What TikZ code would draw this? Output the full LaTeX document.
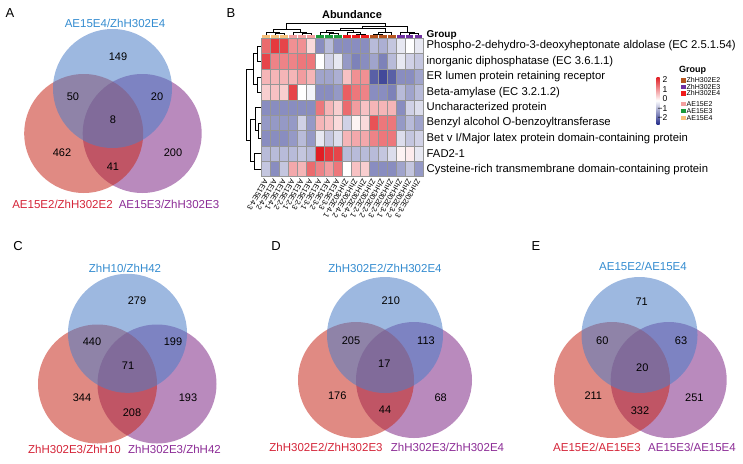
\documentclass[tikz,border=0pt]{standalone}
\usepackage{fontspec}
\setmainfont{Liberation Sans}
\definecolor{vblue}{RGB}{77,126,199}
\definecolor{vred}{RGB}{199,42,30}
\definecolor{vpurple}{RGB}{128,42,135}
\definecolor{tblue}{RGB}{52,140,208}
\definecolor{tred}{RGB}{212,36,56}
\definecolor{tpurple}{RGB}{140,44,150}
\definecolor{hmred}{RGB}{225,30,36}
\definecolor{hmblue}{RGB}{40,48,140}
\definecolor{cellgray}{RGB}{150,150,150}
\definecolor{gZtwo}{RGB}{182,84,30}
\definecolor{gZthree}{RGB}{112,48,160}
\definecolor{gZfour}{RGB}{240,26,26}
\definecolor{gAtwo}{RGB}{244,160,160}
\definecolor{gAthree}{RGB}{26,154,58}
\definecolor{gAfour}{RGB}{248,192,122}
\begin{document}
\begin{tikzpicture}[x=1pt, y=-1pt,
        panel/.style={font=\fontsize{13}{13}\selectfont},
        setlab/.style={font=\fontsize{11.5}{12}\selectfont},
        num/.style={font=\fontsize{11}{12}\selectfont},
        bluecirc/.style={fill=vblue, fill opacity=0.55},
        redcirc/.style={fill=vred, fill opacity=0.55},
        purplecirc/.style={fill=vpurple, fill opacity=0.55},
        rowlab/.style={anchor=west, inner sep=0pt, font=\fontsize{11.3}{12}\selectfont},
        collab/.style={anchor=west, rotate=240, inner sep=0pt, font=\fontsize{7.5}{7.5}\selectfont},
        dendro/.style={line width=0.6pt},
        leglab/.style={inner sep=0pt, font=\fontsize{8.5}{8.5}\selectfont},
        legtxt/.style={anchor=west, inner sep=0pt, font=\fontsize{7}{7}\selectfont},
        boldlab/.style={inner sep=0pt, font=\bfseries\fontsize{9}{9}\selectfont}
    ]
    \useasboundingbox (0,0) rectangle (743,463);

    % A
    \fill[purplecirc] (142.2,133.5) circle (59.5);
    \fill[redcirc] (83.7,133.5) circle (59.5);
    \fill[bluecirc] (112.5,88.5) circle (59.5);
    \node[panel] (pA) at (10,13) {A};
    \node[setlab, text=tblue] (a-top) at (115,23) {AE15E4/ZhH302E4};
    \node[setlab, text=tred] (a-left) at (62.5,204) {AE15E2/ZhH302E2};
    \node[setlab, text=tpurple] (a-right) at (169,204) {AE15E3/ZhH302E3};
    \node[num] (a1) at (118,57) {149};
    \node[num] (a2) at (73,97) {50};
    \node[num] (a3) at (157,97) {20};
    \node[num] (a4) at (113,120) {8};
    \node[num] (a5) at (62,153) {462};
    \node[num] (a6) at (173,153) {200};
    \node[num] (a7) at (113,167) {41};

    % B
    \node[panel] (pB) at (231,13) {B};
    \node[inner sep=0pt, font=\bfseries\fontsize{11}{12}\selectfont] (abund) at (352,15) {Abundance};
    \foreach \vals [count=\i] in {
        {1.2,1.6,1.5,0.9,0.9,0.3,-1.0,-0.6,-1.0,-1.0,-1.0,-1.0,-0.6,-0.7,-0.5,-0.2,0.0,-0.2},
        {1.5,1.0,1.0,1.0,1.1,1.1,0.0,-0.4,-0.2,-0.9,-1.1,-1.0,-0.8,-1.1,-0.6,-0.2,-0.4,-0.5},
        {0.6,0.6,0.6,0.6,0.8,0.6,-0.8,-0.8,-0.7,0.5,0.9,0.9,-1.4,-1.6,-1.4,-1.0,-1.0,-0.8},
        {0.4,0.5,0.4,1.5,0.0,-0.1,-1.0,-1.0,-0.9,1.3,1.1,1.0,-1.0,-1.0,-1.1,-0.6,-0.8,-0.6},
        {-1.0,-1.0,-1.0,-1.0,-1.0,-1.0,1.1,0.6,0.4,1.2,0.8,0.5,0.6,0.6,0.6,-1.0,-0.4,-0.3},
        {-0.9,-0.9,-0.9,-0.9,-0.4,-0.9,0.6,0.5,0.3,-0.4,0.1,0.3,1.4,1.1,1.1,-0.9,-0.6,-0.8},
        {-1.0,-1.0,-1.0,-0.9,-0.6,-0.9,-0.2,-0.5,-0.3,0.6,0.7,0.7,1.0,1.1,1.1,-0.3,-0.5,-0.4},
        {-0.6,-0.6,-0.6,-0.6,-0.5,-0.6,2.0,1.6,1.5,-0.6,-0.6,-0.6,-0.6,-0.5,-0.3,0.1,0.15,-0.2},
        {-0.5,-1.0,-0.5,0.7,0.6,1.2,1.0,0.8,1.1,0.0,0.5,0.4,-1.0,-1.0,-1.0,-0.8,-0.5,-0.9}} {
        \foreach \v [count=\j] in \vals {
            \pgfmathsetmacro\pct{min(100,abs(\v)*55)}
            \pgfmathtruncatemacro\isneg{\v<0}
            \ifnum\isneg=1 \def\hc{hmblue}\else\def\hc{hmred}\fi
            \fill[fill=\hc!\pct!white, draw=cellgray, line width=0.5pt]
                ({261.7+8.96*(\j-1)},{38.3+15.38*(\i-1)}) rectangle ++(8.96,15.38);
        }
    }
    \foreach \gc [count=\j] in {gAfour,gAfour,gAfour,gAtwo,gAtwo,gAtwo,gAthree,gAthree,gAthree,
            gZfour,gZfour,gZfour,gZtwo,gZtwo,gZtwo,gZthree,gZthree,gZthree}
        \fill[\gc] ({261.7+8.96*(\j-1)+0.6},35.3) rectangle ++(7.8,2.4);

    \draw[dendro] (275.1,35) |- (284.1,33.5) -- (284.1,35);
    \draw[dendro] (266.2,35) |- (279.6,32) -- (279.6,33.5);
    \draw[dendro] (302.0,35) |- (311.0,33.5) -- (311.0,35);
    \draw[dendro] (293.1,35) |- (306.5,32) -- (306.5,33.5);
    \draw[dendro] (272.9,32) |- (299.8,29) -- (299.8,32);
    \draw[dendro] (328.9,35) |- (337.9,33.5) -- (337.9,35);
    \draw[dendro] (320.0,35) |- (333.4,32) -- (333.4,33.5);
    \draw[dendro] (355.8,35) |- (364.8,33.8) -- (364.8,35);
    \draw[dendro] (346.8,35) |- (360.3,32.5) -- (360.3,33.8);
    \draw[dendro] (326.7,32) |- (353.55,30) -- (353.55,32.5);
    \draw[dendro] (373.7,35) |- (382.7,33.8) -- (382.7,35);
    \draw[dendro] (378.2,33.8) |- (391.6,32.5) -- (391.6,35);
    \draw[dendro] (340.1,30) |- (384.9,28) -- (384.9,32.5);
    \draw[dendro] (409.6,35) |- (418.5,33.5) -- (418.5,35);
    \draw[dendro] (400.6,35) |- (414.05,32) -- (414.05,33.5);
    \draw[dendro] (362.5,28) |- (407.3,26) -- (407.3,32);
    \draw[dendro] (286.35,29) |- (384.9,23) -- (384.9,26);

    \draw[dendro] (261,46.0) -| (257,61.4) -- (261,61.4);
    \draw[dendro] (261,76.8) -| (257,92.1) -- (261,92.1);
    \draw[dendro] (257,53.7) -| (253.5,84.45) -- (257,84.45);
    \draw[dendro] (261,122.9) -| (258.5,138.3) -- (261,138.3);
    \draw[dendro] (261,107.5) -| (255.5,130.6) -- (258.5,130.6);
    \draw[dendro] (261,153.7) -| (254.5,169.1) -- (261,169.1);
    \draw[dendro] (255.5,119.05) -| (250,161.4) -- (254.5,161.4);
    \draw[dendro] (253.5,69.1) -| (246,140.2) -- (250,140.2);

    \node[boldlab, anchor=west, font=\bfseries\fontsize{10}{10}\selectfont] (grp) at (426.5,35.5) {Group};
    \node[rowlab] (p1) at (426.5,46.0) {Phospho-2-dehydro-3-deoxyheptonate aldolase (EC 2.5.1.54)};
    \node[rowlab] (p2) at (426.5,61.4) {inorganic diphosphatase (EC 3.6.1.1)};
    \node[rowlab] (p3) at (426.5,76.8) {ER lumen protein retaining receptor};
    \node[rowlab] (p4) at (426.5,92.1) {Beta-amylase (EC 3.2.1.2)};
    \node[rowlab] (p5) at (426.5,107.5) {Uncharacterized protein};
    \node[rowlab] (p6) at (426.5,122.9) {Benzyl alcohol O-benzoyltransferase};
    \node[rowlab] (p7) at (426.5,138.3) {Bet v I/Major latex protein domain-containing protein};
    \node[rowlab] (p8) at (426.5,153.7) {FAD2-1};
    \node[rowlab] (p9) at (426.5,169.1) {Cysteine-rich transmembrane domain-containing protein};

    \foreach \lab [count=\j] in {AE15E4-3,AE15E4-2,AE15E4-1,AE15E2-2,AE15E2-1,AE15E2-3,
            AE15E3-1,AE15E3-2,AE15E3-3,ZhH302E4-1,ZhH302E4-2,ZhH302E4-3,
            ZhH302E2-1,ZhH302E2-2,ZhH302E2-3,ZhH302E3-1,ZhH302E3-2,ZhH302E3-3}
        \node[collab] (col\j) at ({261.7+8.96*(\j-0.5)},180) {\lab};

    \shade[top color=hmred, bottom color=hmblue, middle color=white] (656.5,77) rectangle (659.5,124);
    \node[leglab, anchor=east] (k1) at (667.5,80) {2};
    \node[leglab, anchor=east] (k2) at (667.5,89.5) {1};
    \node[leglab, anchor=east] (k3) at (667.5,99) {0};
    \node[leglab, anchor=east] (k4) at (667.5,108.5) {−1};
    \node[leglab, anchor=east] (k5) at (667.5,118) {−2};
    \node[boldlab, anchor=west] (lgrp) at (679,70) {Group};
    \fill[gZtwo] (681,78) rectangle ++(4.5,4.5);
    \node[legtxt] (g1) at (686.5,80.2) {ZhH302E2};
    \fill[gZthree] (681,84.5) rectangle ++(4.5,4.5);
    \node[legtxt] (g2) at (686.5,86.7) {ZhH302E3};
    \fill[gZfour] (681,91) rectangle ++(4.5,4.5);
    \node[legtxt] (g3) at (686.5,93.2) {ZhH302E4};
    \fill[gAtwo] (681,101.5) rectangle ++(4.5,4.5);
    \node[legtxt] (g4) at (686.5,103.7) {AE15E2};
    \fill[gAthree] (681,108.5) rectangle ++(4.5,4.5);
    \node[legtxt] (g5) at (686.5,110.7) {AE15E3};
    \fill[gAfour] (681,115.5) rectangle ++(4.5,4.5);
    \node[legtxt] (g6) at (686.5,117.7) {AE15E4};

    % C
    \fill[purplecirc] (157,384) circle (59.5);
    \fill[redcirc] (97.5,384) circle (59.5);
    \fill[bluecirc] (127.5,333.3) circle (59.5);
    \node[panel] (pC) at (18,246) {C};
    \node[setlab, text=tblue] (c-top) at (125,268) {ZhH10/ZhH42};
    \node[setlab, text=tred] (c-left) at (74.5,449) {ZhH302E3/ZhH10};
    \node[setlab, text=tpurple] (c-right) at (174.5,449) {ZhH302E3/ZhH42};
    \node[num] (c1) at (137,301) {279};
    \node[num] (c2) at (92,342) {440};
    \node[num] (c3) at (173,342) {199};
    \node[num] (c4) at (128,366) {71};
    \node[num] (c5) at (82,398) {344};
    \node[num] (c6) at (188,398) {193};
    \node[num] (c7) at (132,413) {208};

    % D
    \fill[purplecirc] (414,380) circle (58);
    \fill[redcirc] (356,380) circle (58);
    \fill[bluecirc] (385,335) circle (58);
    \node[panel] (pD) at (276,246) {D};
    \node[setlab, text=tblue] (d-top) at (385,268) {ZhH302E2/ZhH302E4};
    \node[setlab, text=tred] (d-left) at (326,447) {ZhH302E2/ZhH302E3};
    \node[setlab, text=tpurple] (d-right) at (447.5,447) {ZhH302E3/ZhH302E4};
    \node[num] (d1) at (390.7,301) {210};
    \node[num] (d2) at (351,341) {205};
    \node[num] (d3) at (426,341) {113};
    \node[num] (d4) at (384.3,364) {17};
    \node[num] (d5) at (337.3,396) {176};
    \node[num] (d6) at (440.7,398) {68};
    \node[num] (d7) at (385,410) {44};

    % E
    \fill[purplecirc] (668.7,380) circle (58);
    \fill[redcirc] (612,380) circle (58);
    \fill[bluecirc] (639.5,335) circle (58);
    \node[panel] (pE) at (536,246) {E};
    \node[setlab, text=tblue] (e-top) at (643,266) {AE15E2/AE15E4};
    \node[setlab, text=tred] (e-left) at (597,447) {AE15E2/AE15E3};
    \node[setlab, text=tpurple] (e-right) at (692,447) {AE15E3/AE15E4};
    \node[num] (e1) at (641.7,301.7) {71};
    \node[num] (e2) at (602.3,341) {60};
    \node[num] (e3) at (681,341) {63};
    \node[num] (e4) at (642.3,367.7) {20};
    \node[num] (e5) at (593.3,396) {211};
    \node[num] (e6) at (694.3,397.7) {251};
    \node[num] (e7) at (640,411) {332};
\end{tikzpicture}
\end{document}
